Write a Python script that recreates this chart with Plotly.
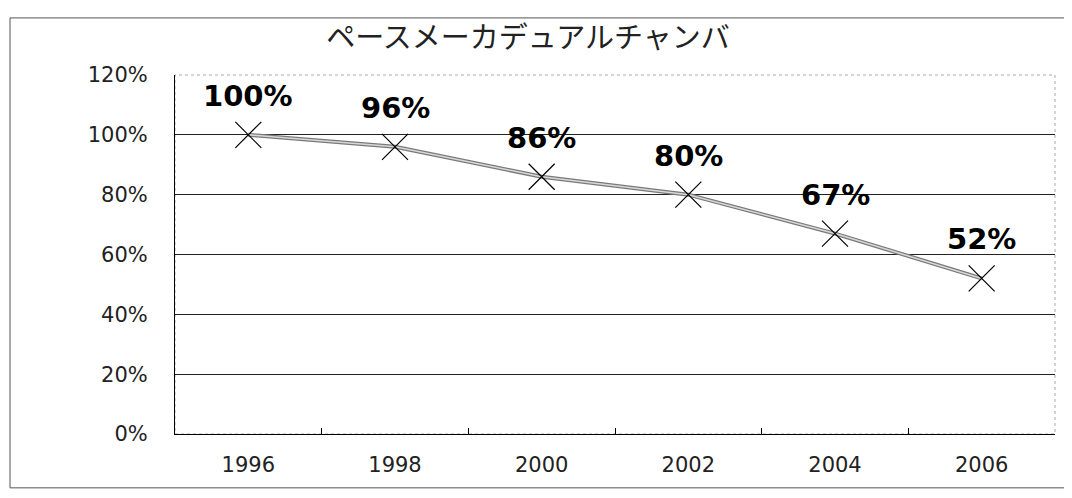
import plotly.graph_objects as go

years = ["1996", "1998", "2000", "2002", "2004", "2006"]
values = [100, 96, 86, 80, 67, 52]
labels = ["100%", "96%", "86%", "80%", "67%", "52%"]
y_ticks = [0, 20, 40, 60, 80, 100, 120]
y_ticktext = ["0%", "20%", "40%", "60%", "80%", "100%", "120%"]
title_text = "ペースメーカデュアルチャンバ"

fig = go.Figure()
# double grey line effect
fig.add_trace(go.Scatter(x=years, y=values, mode="lines",
                         line=dict(color="#7a7a7a", width=4), hoverinfo="skip", showlegend=False))
fig.add_trace(go.Scatter(x=years, y=values, mode="lines+markers",
                         line=dict(color="#d8d8d8", width=1.5),
                         marker=dict(symbol="x-thin", size=26, line=dict(color="black", width=1.2)),
                         showlegend=False))

for i, (v, lab) in enumerate(zip(values, labels)):
    fig.add_annotation(x=i, y=v, xref="x", yref="y", text=lab, showarrow=False, yshift=39,
                       font=dict(family="DejaVu Sans", size=29, color="black", weight="bold"))

# outer chart border
fig.add_shape(type="rect", xref="paper", yref="paper", x0=-0.1875, x1=1.0125, y0=-0.150, y1=1.159,
              line=dict(color="#555", width=1), layer="below")
# plot area frame (faint, dotted on top/right)
fig.add_shape(type="rect", xref="paper", yref="paper", x0=0, x1=1, y0=0, y1=1,
              line=dict(color="#aaa", width=1, dash="dot"), layer="below")

fig.update_layout(
    width=1064, height=490,
    margin=dict(l=167, r=17, t=67, b=64),
    paper_bgcolor="white", plot_bgcolor="white",
    title=dict(text=title_text, x=(528 - 8) / 1064, xanchor="center", y=1 - 30 / 490, yanchor="middle",
               font=dict(family="Noto Sans CJK JP", size=29, color="#222")),
    xaxis=dict(type="category", showgrid=False, showline=True, linecolor="black", linewidth=1,
               ticks="inside", tickson="boundaries", ticklen=6, tickcolor="black",
               ticklabelstandoff=12,
               tickfont=dict(family="DejaVu Sans", size=21, color="#222"),
               range=[-0.5, 5.5], automargin=False),
    yaxis=dict(range=[0, 120], tickvals=y_ticks, ticktext=y_ticktext,
               showgrid=True, gridcolor="#222", gridwidth=1,
               showline=True, linecolor="black", linewidth=1, zeroline=False,
               ticks="", ticklabelstandoff=22, automargin=False,
               tickfont=dict(family="DejaVu Sans", size=21, color="#222")),
)

fig.write_html("out.html")
